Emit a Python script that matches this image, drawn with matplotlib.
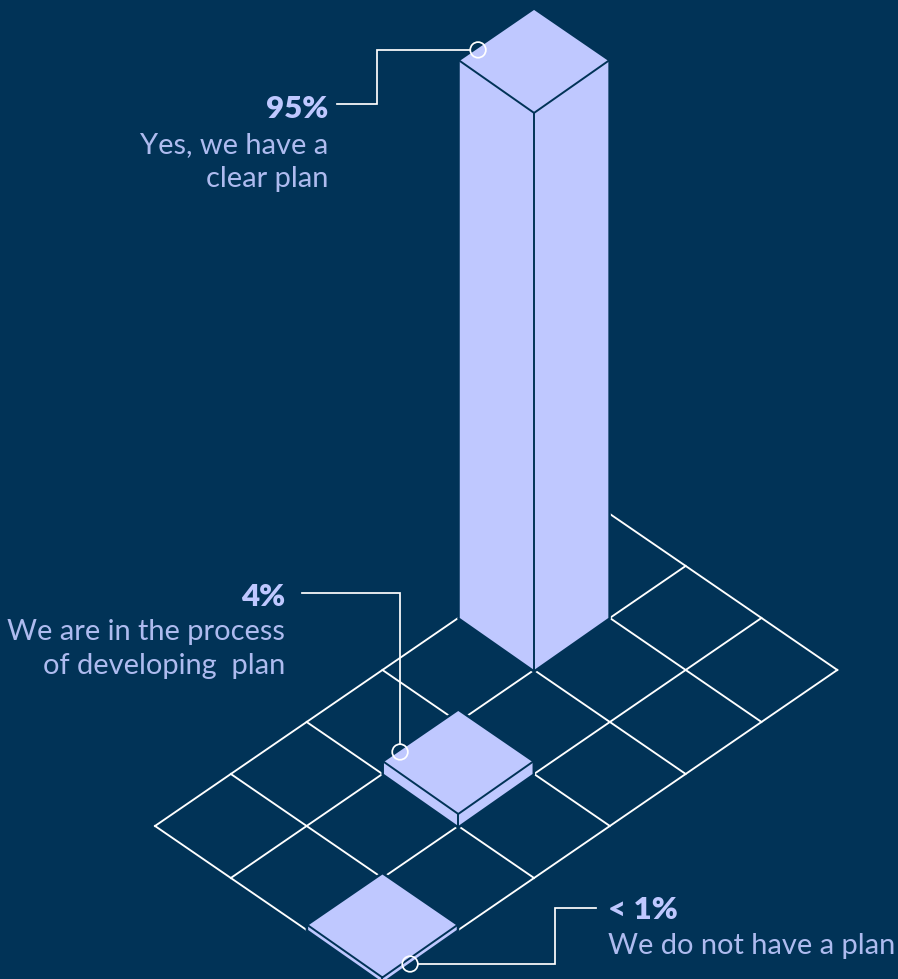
import matplotlib
matplotlib.use('Agg')
import matplotlib.pyplot as plt
from matplotlib.patches import Polygon, Circle

# data
shares = ['95%', '4%', '< 1%']
labels = [['Yes, we have a', 'clear plan'],
          ['We are in the process', 'of developing  plan'],
          ['We do not have a plan']]
column_heights = [557, 12, 4.5]   # drawn heights
column_cells = [(4, 0), (2, 1), (0, 2)]

grid_long = 6
grid_short = 3

bg = '#013357'
bar_col = '#BFC8FF'
label_col = '#AEBBEF'
line_col = '#FFFFFF'
inset = 0.01   # columns sit a hair inside their cell


def iso(i, j, z=0):
    # grid position to picture position
    return (155.0 + 75.8 * i + 75.8 * j, 826.0 - 52.0 * i + 52.0 * j - z)


fig = plt.figure(figsize=(8.981, 9.791), dpi=100, facecolor=bg)
ax = fig.add_axes([0, 0, 1, 1])
ax.set_xlim(0, 898)
ax.set_ylim(979, 0)
ax.axis('off')

# floor grid
for i in range(grid_long + 1):
    p0, p1 = iso(i, 0), iso(i, grid_short)
    ax.plot([p0[0], p1[0]], [p0[1], p1[1]], color=line_col, lw=1.35, zorder=1)
for j in range(grid_short + 1):
    p0, p1 = iso(0, j), iso(grid_long, j)
    ax.plot([p0[0], p1[0]], [p0[1], p1[1]], color=line_col, lw=1.35, zorder=1)

# columns
for (i, j), h in zip(column_cells, column_heights):
    back = iso(i + 1 - inset, j + inset, h)
    left = iso(i + inset, j + inset, h)
    right = iso(i + 1 - inset, j + 1 - inset, h)
    front = iso(i, j + 1, h)
    left_b = iso(i + inset, j + inset)
    right_b = iso(i + 1 - inset, j + 1 - inset)
    front_b = iso(i, j + 1)
    outline = [back, right, right_b, front_b, left_b, left]
    # background coloured halo cuts the grid lines around the column
    ax.add_patch(Polygon(outline, closed=True, fc=bg, ec=bg, lw=3.6, zorder=2))
    ax.add_patch(Polygon(outline, closed=True, fc=bar_col, ec='none', zorder=3))
    ax.plot([left[0], front[0], right[0]], [left[1], front[1], right[1]],
            color=bg, lw=1.4, zorder=4, solid_joinstyle='miter')
    ax.plot([front[0], front_b[0]], [front[1], front_b[1]], color=bg, lw=1.4, zorder=4)

# leader lines and rings
leader_x = [[337, 377, 377, 470], [302, 400, 400], [596, 555, 555, 418]]
leader_y = [[104, 104, 50, 50], [593, 593, 744], [908, 908, 964, 964]]
rings = [(478, 50), (400, 752), (410, 964)]
for xs, ys, c in zip(leader_x, leader_y, rings):
    ax.plot(xs, ys, color=line_col, lw=1.25, zorder=5, solid_joinstyle='miter')
    ax.add_patch(Circle(c, 7.8, fc='none', ec=line_col, lw=1.25, zorder=5))

# text
font = 'Lato'
anchors = [(328, 118, 'right', [153, 187]),
           (285, 606, 'right', [640, 674]),
           (608, 919, 'left', [954])]
for s, lab, (x, y, ha, ys) in zip(shares, labels, anchors):
    ax.text(x, y, s, color=bar_col, fontsize=22.5, fontweight='heavy', family=font,
            ha=ha, va='baseline', zorder=6)
    for t, ty in zip(lab, ys):
        ax.text(x, ty, t, color=label_col, fontsize=20.9, fontweight='regular', family=font,
                ha=ha, va='baseline', zorder=6)

fig.savefig('out.png', dpi=100, facecolor=bg)
